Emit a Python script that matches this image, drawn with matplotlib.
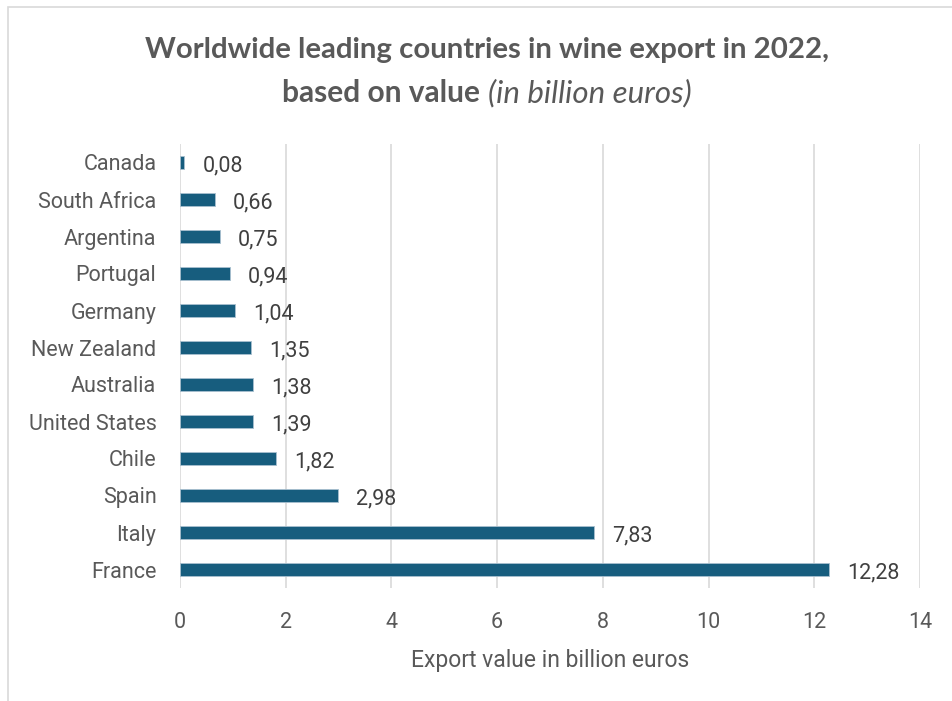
import matplotlib.pyplot as plt
from matplotlib.patches import Rectangle

countries = ["France", "Italy", "Spain", "Chile", "United States", "Australia",
             "New Zealand", "Germany", "Portugal", "Argentina", "South Africa", "Canada"]
values = [12.28, 7.83, 2.98, 1.82, 1.39, 1.38, 1.35, 1.04, 0.94, 0.75, 0.66, 0.08]
xticks = [0, 2, 4, 6, 8, 10, 12, 14]

BAR = "#175d7e"
GREY = "#595959"
BODY = ["Roboto", "DejaVu Sans"]
TITLE = ["Lato", "DejaVu Sans"]


def fmt(v):
    return f"{v:.2f}".replace(".", ",")


def main():
    plt.rcParams["font.family"] = BODY
    fig = plt.figure(figsize=(9.52, 7.01), dpi=100)

    # outer chart border (only left and top visible in the crop)
    fig.patches.append(Rectangle((8 / 952, -0.1), 1.2, 1 - 7 / 701 + 0.1,
                                 transform=fig.transFigure, fill=False,
                                 edgecolor="#d9d9d9", linewidth=1.2))

    ax = fig.add_axes([180 / 952, 1 - 588 / 701, 740 / 952, 444 / 701])
    y = range(len(countries))
    ax.barh(y, values, height=0.36, color=BAR, edgecolor="#a9c0cf",
            linewidth=0.6, zorder=3)

    for yi, v in zip(y, values):
        ax.annotate(fmt(v), (v, yi), xytext=(13, -2.5), textcoords="offset points",
                    ha="left", va="center", fontsize=15.5, color="#404040")

    ax.set_xlim(0, 14)
    ax.set_ylim(-0.5, len(countries) - 0.5)
    ax.set_xticks(xticks)
    ax.set_xticklabels([str(t) for t in xticks])
    ax.set_yticks(list(y))
    ax.set_yticklabels(countries)
    ax.grid(axis="x", color="#d9d9d9", linewidth=1.2, zorder=0)
    ax.tick_params(axis="both", length=0, labelsize=15.5, colors=GREY)
    ax.tick_params(axis="x", pad=17)
    ax.tick_params(axis="y", pad=17)
    for s in ax.spines.values():
        s.set_visible(False)

    ax.set_xlabel("Export value in billion euros", fontsize=16.5, color=GREY, labelpad=12)

    fig.text(487 / 952, 1 - 50 / 701, "Worldwide leading countries in wine export in 2022,",
             ha="center", va="center", fontsize=21.2, fontweight="bold", color=GREY,
             family=TITLE)
    t1 = fig.text(0, 1 - 93 / 701, "based on value ", ha="left", va="center",
                  fontsize=21.5, fontweight="bold", color=GREY, family=TITLE)
    t2 = fig.text(0, 1 - 93 / 701, "(in billion euros)", ha="left", va="center",
                  fontsize=22.5, style="italic", color=GREY, family=TITLE)

    # centre the mixed-style second title line
    fig.canvas.draw()
    r = fig.canvas.get_renderer()
    w1 = t1.get_window_extent(r).width
    w2 = t2.get_window_extent(r).width
    x0 = 487 - (w1 + w2) / 2
    t1.set_x(x0 / 952)
    t2.set_x((x0 + w1) / 952)

    fig.savefig("out.png", dpi=100)


if __name__ == "__main__":
    main()
